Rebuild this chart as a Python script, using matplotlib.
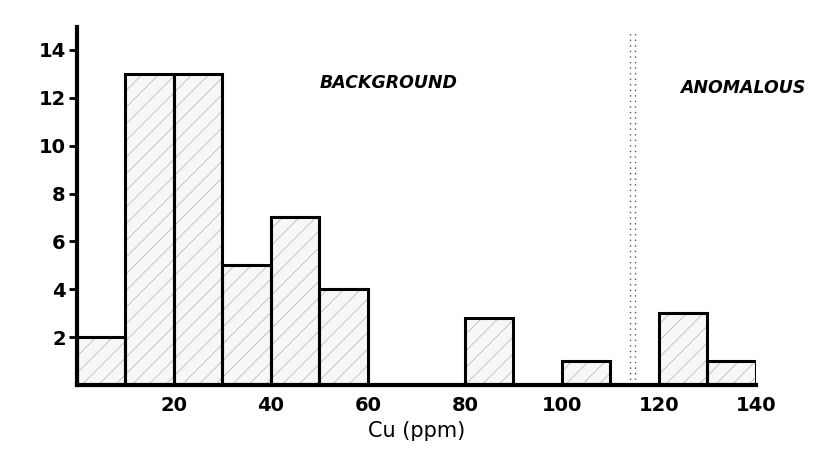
import matplotlib.pyplot as plt

# histogram of Cu values, 10 ppm classes
bin_left = [0, 10, 20, 30, 40, 50, 60, 70, 80, 90, 100, 110, 120, 130]
counts = [2, 13, 13, 5, 7, 4, 0, 0, 2.8, 0, 1, 0, 3, 1]
yticks = [2, 4, 6, 8, 10, 12, 14]
xticks = [20, 40, 60, 80, 100, 120, 140]
threshold = 114.6

plt.rcParams['hatch.linewidth'] = 0.5

fig = plt.figure(figsize=(8.36, 4.69), dpi=100)
ax = fig.add_axes([0.092, 0.179, 0.812, 0.763])

lefts = [b for b, c in zip(bin_left, counts) if c > 0]
hts = [c for c in counts if c > 0]

# light hatched fill, then black outline on top
ax.bar(lefts, hts, width=10, align='edge', color='#f7f7f7',
       edgecolor='#b0b0b0', hatch='//', linewidth=0, zorder=2)
ax.bar(lefts, hts, width=10, align='edge', color='none',
       edgecolor='black', linewidth=2.2, zorder=3)

# dotted boundary between background and anomalous
for xv in (threshold - 0.6, threshold + 0.6):
    ax.axvline(xv, ymin=0, ymax=0.985, color='#555555', linestyle=(0, (1, 3)),
               linewidth=1, zorder=1)

ax.text(50, 12.6, 'BACKGROUND', fontsize=12.5, fontweight='bold',
        fontstyle='italic', ha='left', va='center')
ax.text(124.5, 12.4, 'ANOMALOUS', fontsize=12.5, fontweight='bold',
        fontstyle='italic', ha='left', va='center', clip_on=False)

ax.set_xlim(0, 140)
ax.set_ylim(0, 14.95)
ax.set_xticks(xticks)
ax.set_yticks(yticks)
ax.tick_params(axis='x', length=0, pad=8, labelsize=14)
ax.tick_params(axis='y', length=6, width=2, direction='out', pad=2, labelsize=14)
for lab in ax.get_xticklabels() + ax.get_yticklabels():
    lab.set_fontweight('semibold')
ax.set_xlabel('Cu (ppm)', fontsize=15, labelpad=4)

for s in ['top', 'right']:
    ax.spines[s].set_visible(False)
ax.spines['left'].set_linewidth(3)
ax.spines['bottom'].set_linewidth(3)

fig.savefig('out.png', dpi=100)
